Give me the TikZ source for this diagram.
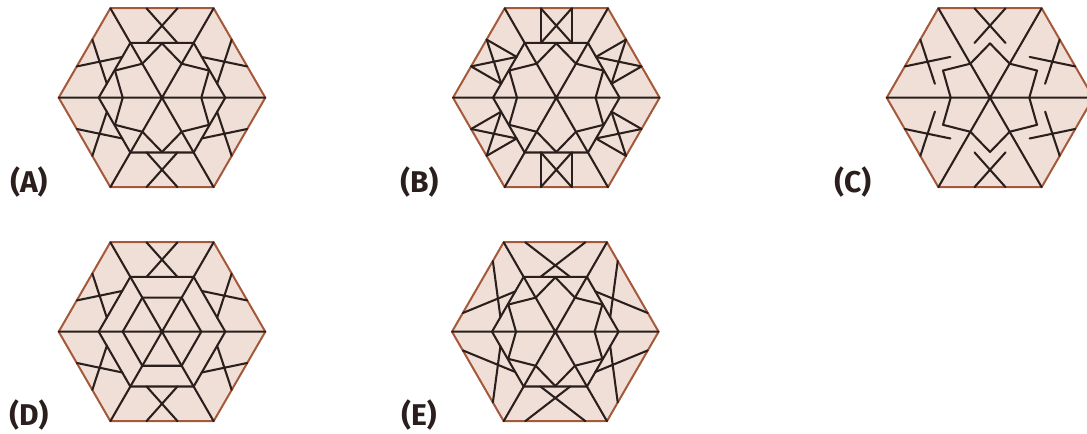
\documentclass[tikz,border=0pt]{standalone}
\usepackage{fontspec}
\setmainfont{Fira Sans}
\definecolor{hexfill}{HTML}{EFDFD6}
\definecolor{hexedge}{HTML}{A5583A}
\definecolor{inkline}{HTML}{2A1F1C}
\newcommand{\hexbase}{%
  \fill[hexfill] (0:103.3) -- (60:103.3) -- (120:103.3) -- (180:103.3) -- (240:103.3) -- (300:103.3) -- cycle;
  \draw[hexedge,line width=1.5pt,line join=round] (0:103.3) -- (60:103.3) -- (120:103.3) -- (180:103.3) -- (240:103.3) -- (300:103.3) -- cycle;
  \draw[pat] (0:103.3) -- (180:103.3) (60:103.3) -- (240:103.3) (120:103.3) -- (300:103.3);
}
\newcommand{\innerhex}[1]{\draw[pat] (0:#1) -- (60:#1) -- (120:#1) -- (180:#1) -- (240:#1) -- (300:#1) -- cycle;}
\newcommand{\starline}{\draw[pat] (0:39.3) -- (30:54.3) -- (60:39.3) -- (90:54.3) -- (120:39.3) -- (150:54.3) -- (180:39.3) -- (210:54.3) -- (240:39.3) -- (270:54.3) -- (300:39.3) -- (330:54.3) -- cycle;}
% #1 half-width at hexagon edge, #2 half-width at inner end
\newcommand{\crosses}[2]{\foreach \a in {0,60,...,300}{
  \draw[pat,rotate=\a] (-#1,89.4) -- (#2,54.7) (#1,89.4) -- (-#2,54.7);}}
\newcommand{\boxsides}{\foreach \a in {0,60,...,300}{
  \draw[pat,rotate=\a] (-15.5,89.4) -- (-15.5,54.7) (15.5,89.4) -- (15.5,54.7);}}
\tikzset{x=0.75pt,y=0.75pt,
  pat/.style={inkline,line width=1.55pt,line cap=round,line join=round},
  tag/.style={text=inkline,font=\fontsize{22.5}{24}\selectfont\bfseries,inner sep=0pt,anchor=west}}
\begin{document}
\begin{tikzpicture}
\useasboundingbox (0,0) rectangle (1087,-433);
\clip (0,0) rectangle (1087,-433);
\begin{scope}[shift={(162,-97.7)}]
  \hexbase \innerhex{63.3} \starline \crosses{15.5}{15.5}
\end{scope}
\begin{scope}[shift={(556.3,-97.7)}]
  \hexbase \innerhex{63.3} \starline \crosses{15.5}{15.5} \boxsides
\end{scope}
\begin{scope}[shift={(990,-97.7)}]
  \hexbase \starline \crosses{15.5}{15.5}
\end{scope}
\begin{scope}[shift={(162,-331.7)}]
  \hexbase \innerhex{63.3} \innerhex{39.3} \crosses{15.5}{15.5}
\end{scope}
\begin{scope}[shift={(555.3,-331.7)}]
  \hexbase \innerhex{63.3} \starline \crosses{30}{15}
\end{scope}
\node[tag] (la) at (10,-182) {(A)};
\node[tag] (lb) at (400,-182) {(B)};
\node[tag] (lc) at (834,-182) {(C)};
\node[tag] (ld) at (9,-415) {(D)};
\node[tag] (le) at (401,-415) {(E)};
\end{tikzpicture}
\end{document}
